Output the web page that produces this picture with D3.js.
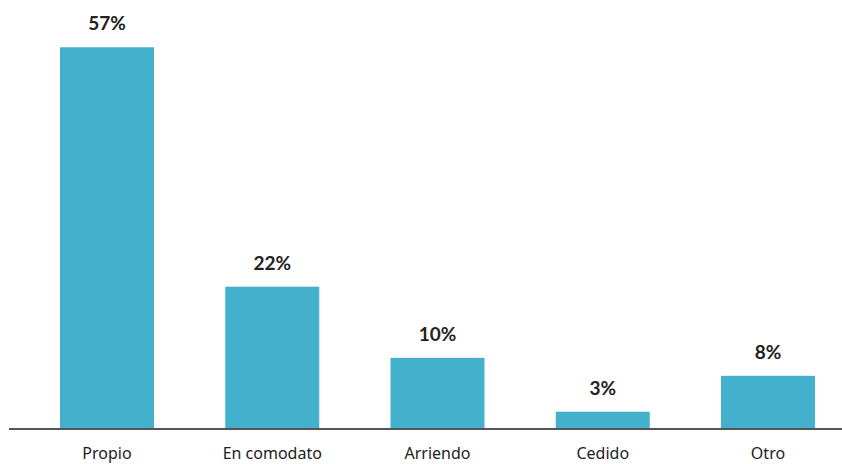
<!DOCTYPE html>
<html>
<head>
<meta charset="utf-8">
<script src="https://cdn.jsdelivr.net/npm/d3@7"></script>
<style>
  html, body { margin: 0; padding: 0; background: #fff; }
  svg { display: block; }
</style>
</head>
<body>
<svg id="chart" width="842" height="464"></svg>
<script>
const categories = ["Propio", "En comodato", "Arriendo", "Cedido", "Otro"];
const values = [57.4, 21.4, 10.7, 2.6, 8.0];
const valueLabels = ["57%", "22%", "10%", "3%", "8%"];

const svg = d3.select("#chart");
const W = 842, H = 464;
const baseY = 429;

const x = d3.scaleBand()
  .domain(categories)
  .range([60, 815])
  .paddingInner(0.431)
  .paddingOuter(0);

const y = d3.scaleLinear()
  .domain([0, 60])
  .range([baseY, baseY - 60 * 6.65]);

svg.append("g")
  .selectAll("rect")
  .data(categories)
  .join("rect")
  .attr("x", d => x(d))
  .attr("width", x.bandwidth())
  .attr("y", (d, i) => y(values[i]))
  .attr("height", (d, i) => y(0) - y(values[i]) + 1)
  .attr("fill", "#43B1CC");

// axis line
const xAxis = d3.axisBottom(x).tickSize(0).tickPadding(19);
const ax = svg.append("g")
  .attr("transform", `translate(0,${baseY})`)
  .call(xAxis);
ax.select(".domain").remove();
ax.append("line")
  .attr("x1", 9).attr("x2", W)
  .attr("y1", 0).attr("y2", 0)
  .attr("stroke", "#555")
  .attr("stroke-width", 2);
ax.selectAll(".tick text")
  .attr("font-family", "'Noto Sans', sans-serif")
  .attr("font-size", "16px")
  .attr("fill", "#222")
  .attr("dy", "0.71em");

svg.append("g")
  .selectAll("text")
  .data(categories)
  .join("text")
  .attr("x", d => x(d) + x.bandwidth() / 2)
  .attr("y", (d, i) => y(values[i]) - 17)
  .attr("text-anchor", "middle")
  .attr("font-family", "Lato, sans-serif")
  .attr("font-weight", "bold")
  .attr("font-size", "19px")
  .attr("fill", "#222")
  .text((d, i) => valueLabels[i]);
</script>
</body>
</html>
